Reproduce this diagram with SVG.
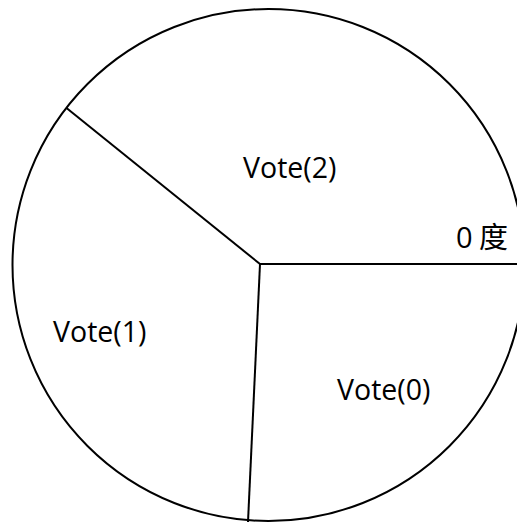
<svg xmlns="http://www.w3.org/2000/svg" width="517" height="522" viewBox="0 0 517 522">
<style>
.ln{stroke:#000;stroke-width:2;fill:none}
.lb{font-family:"Open Sans","Noto Sans CJK SC",sans-serif;font-size:28.5px;fill:#000}
</style>
<rect width="517" height="522" fill="#fff"/>
<g id="circle"><circle class="ln" cx="268.5" cy="265" r="256"/></g>
<g id="connectors">
<line class="ln" x1="260" y1="264" x2="517" y2="264"/>
<line class="ln" x1="260" y1="264" x2="66.5" y2="108"/>
<line class="ln" x1="260" y1="264" x2="248" y2="522"/>
</g>
<g id="vote2"><text class="lb" x="243" y="178">Vote(2)</text></g>
<g id="vote1"><text class="lb" x="53" y="342">Vote(1)</text></g>
<g id="vote0"><text class="lb" x="337" y="400">Vote(0)</text></g>
<g id="deg"><text class="lb" y="248" style="font-size:29px"><tspan x="456">0</tspan><tspan x="479">度</tspan></text></g>
</svg>
